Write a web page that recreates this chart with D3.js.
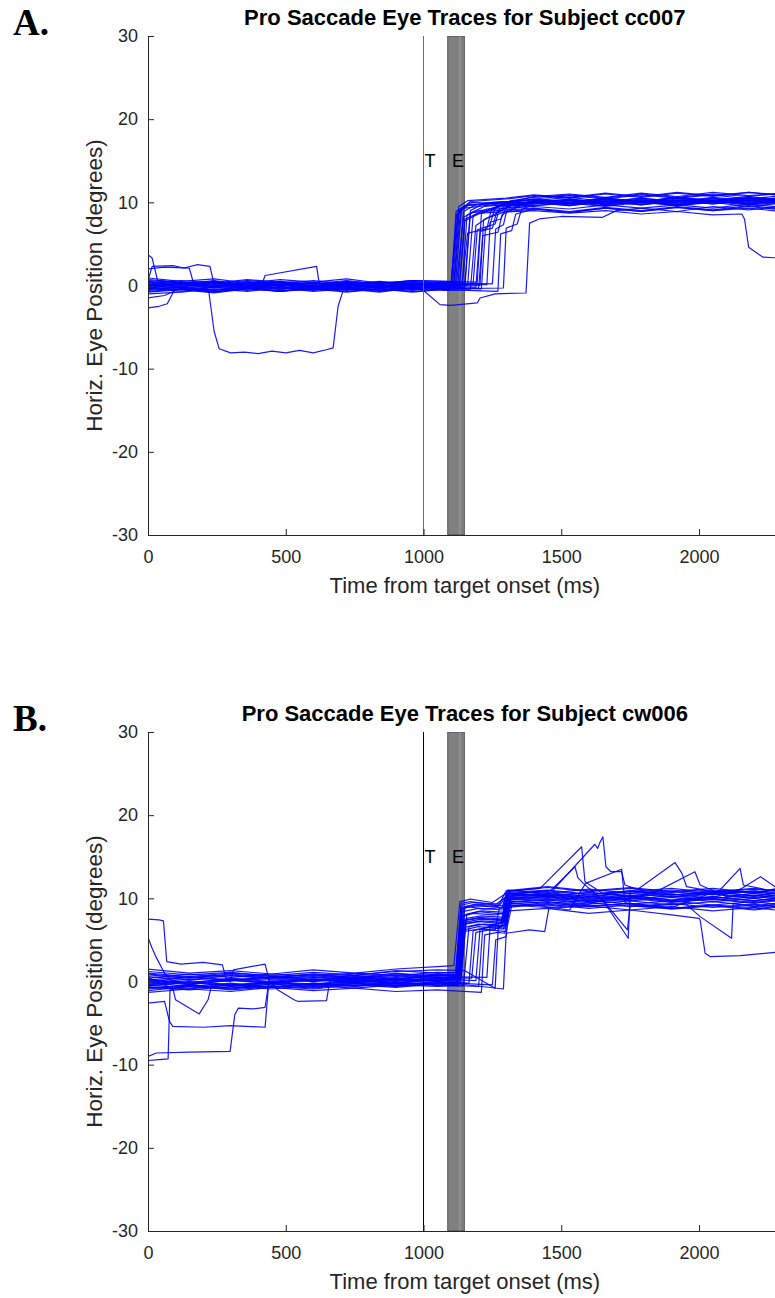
<!DOCTYPE html>
<html>
<head>
<meta charset="utf-8">
<script src="https://cdn.jsdelivr.net/npm/d3@7"></script>
<style>
  html, body { margin: 0; padding: 0; background: #fff; }
  svg { display: block; }
</style>
</head>
<body>
<svg id="chart" width="775" height="1298"></svg>
<script>
// axis limits and ticks
const xLim = [0, 2300];
const yLim = [-30, 30];
const xTicks = [0, 500, 1000, 1500, 2000];
const yTicks = [-30, -20, -10, 0, 10, 20, 30];
const targetTime = 1000;        // "T" line
const eyeWindow = [1088, 1148]; // "E" bar
const eyeMid = 1132;
const labelY = 15;

const titles = ["Pro Saccade Eye Traces for Subject cc007", "Pro Saccade Eye Traces for Subject cw006"];
const letters = ["A.", "B."];

// eye traces, [time ms, horizontal position deg]
const tracesA = [
  [[0,0.4],[120,0.1],[240,0.5],[360,0.0],[480,0.3],[600,-0.1],[720,0.4],[840,0.1],[960,0.5],[1080,0.2],[1100,0.2],[1125,8.8],[1160,9.6],[1250,10.0],[1400,10.3],[1530,10.0],[1660,10.5],[1790,10.1],[1920,10.6],[2050,10.2],[2180,10.7],[2300,10.3]],
  [[0,-0.3],[120,-0.7],[240,-0.2],[360,-0.6],[480,-0.1],[600,-0.5],[720,-0.2],[840,-0.6],[960,-0.1],[1080,-0.4],[1110,-0.1],[1135,9.2],[1170,9.8],[1300,9.6],[1400,9.9],[1530,10.3],[1660,9.8],[1790,10.2],[1920,9.7],[2050,10.1],[2180,9.8],[2300,10.2]],
  [[0,0.9],[120,0.5],[240,0.8],[360,0.3],[480,0.7],[600,0.4],[720,0.8],[840,0.3],[960,0.6],[1080,0.5],[1120,0.4],[1145,8.2],[1180,8.8],[1260,9.0],[1400,9.3],[1530,8.9],[1660,9.4],[1790,9.0],[1920,9.5],[2050,9.1],[2180,9.6],[2300,9.2]],
  [[0,-0.8],[120,-0.5],[240,-0.9],[360,-0.4],[480,-0.7],[600,-0.3],[720,-0.7],[840,-0.4],[960,-0.8],[1080,-0.4],[1130,-0.3],[1150,7.8],[1200,8.6],[1280,9.6],[1400,10.0],[1530,9.6],[1660,10.1],[1790,9.7],[1920,10.2],[2050,9.8],[2180,10.3],[2300,9.9]],
  [[0,0.2],[120,-0.1],[240,0.3],[360,-0.2],[480,0.2],[600,-0.2],[720,0.2],[840,-0.1],[960,0.3],[1080,0.0],[1140,0.1],[1160,6.3],[1230,6.8],[1245,9.0],[1300,9.9],[1400,10.4],[1530,10.8],[1660,10.4],[1790,10.9],[1920,10.5],[2050,10.9],[2180,10.4],[2300,10.8]],
  [[0,-0.1],[120,0.3],[240,0.0],[360,0.5],[480,0.1],[600,0.4],[720,0.0],[840,0.4],[960,0.1],[1080,0.3],[1160,0.0],[1180,8.4],[1230,9.2],[1350,9.8],[1400,10.2],[1530,10.6],[1660,10.1],[1790,10.5],[1920,10.0],[2050,10.5],[2180,10.1],[2300,10.6]],
  [[0,-1.5],[60,-1.2],[120,-0.3],[240,-0.6],[360,-0.1],[480,-0.5],[600,-0.1],[720,-0.5],[840,-0.2],[960,-0.6],[1080,-0.1],[1190,-0.2],[1205,6.5],[1250,6.9],[1265,8.8],[1320,9.6],[1400,9.8],[1530,10.2],[1660,9.7],[1790,10.1],[1920,9.6],[2050,10.0],[2180,9.5],[2300,9.9]],
  [[0,3.7],[15,3.3],[35,0.6],[120,0.3],[240,-0.1],[360,0.4],[480,0.0],[600,0.3],[720,-0.1],[840,0.3],[960,0.0],[1080,0.2],[1110,0.2],[1130,9.0],[1170,10.1],[1300,10.4],[1400,10.8],[1530,10.5],[1660,11.0],[1790,10.6],[1920,11.1],[2050,10.7],[2180,11.2],[2300,10.8]],
  [[0,2.0],[60,2.2],[150,2.1],[165,0.3],[240,0.0],[360,-0.3],[480,0.1],[600,-0.3],[720,0.0],[840,-0.4],[960,0.0],[1080,-0.3],[1200,-0.3],[1215,6.0],[1270,6.4],[1285,8.5],[1340,9.4],[1400,9.6],[1530,9.9],[1660,9.5],[1790,10.0],[1920,9.6],[2050,10.1],[2180,9.7],[2300,10.0]],
  [[0,0.6],[15,2.3],[90,2.4],[130,2.1],[180,2.5],[225,2.3],[240,0.1],[360,-0.3],[480,0.1],[600,-0.4],[720,0.0],[840,-0.3],[960,0.1],[1080,-0.2],[1100,0.0],[1120,8.5],[1150,9.3],[1300,9.9],[1400,10.1],[1530,9.8],[1660,10.3],[1790,9.9],[1920,10.4],[2050,10.0],[2180,10.4],[2300,10.1]],
  [[0,-0.4],[100,0.2],[200,0.0],[220,-0.6],[240,-5.5],[258,-7.6],[300,-8.1],[350,-8.0],[400,-8.2],[450,-7.9],[500,-8.1],[550,-7.8],[600,-8.1],[650,-7.7],[672,-7.5],[690,-2.5],[710,-0.4],[840,0.1],[960,-0.4],[1080,0.0],[1150,-0.3],[1170,8.7],[1220,9.5],[1400,10.0],[1530,9.6],[1660,10.1],[1790,9.7],[1920,10.2],[2050,9.8],[2180,10.2],[2300,9.8]],
  [[0,0.1],[120,-0.2],[240,0.3],[360,-0.1],[415,0.3],[425,1.2],[612,2.3],[622,0.1],[720,-0.2],[840,0.3],[960,-0.1],[1080,0.2],[1125,0.2],[1145,8.9],[1190,9.7],[1300,10.1],[1400,9.9],[1530,10.4],[1660,10.0],[1790,10.5],[1920,10.1],[2050,10.6],[2180,10.2],[2300,10.5]],
  [[0,-2.7],[40,-2.5],[70,-2.2],[95,-0.6],[120,-0.4],[240,-0.8],[360,-0.3],[480,-0.7],[600,-0.2],[720,-0.6],[840,-0.2],[960,-0.5],[1080,-0.3],[1210,-0.4],[1225,7.0],[1260,7.4],[1275,9.2],[1330,9.8],[1400,10.0],[1530,10.4],[1660,9.9],[1790,10.4],[1920,9.9],[2050,10.3],[2180,9.9],[2300,10.2]],
  [[0,0.3],[120,0.0],[240,0.4],[360,-0.1],[480,0.2],[600,-0.2],[720,0.3],[840,-0.1],[920,0.1],[1000,-0.6],[1060,-2.3],[1100,-2.4],[1195,-2.1],[1205,-1.5],[1260,-1.0],[1372,-0.9],[1385,7.5],[1420,8.0],[1500,8.3],[1650,8.2],[1700,9.0],[1790,9.3],[1920,8.9],[2050,9.5],[2180,9.1],[2300,9.5]],
  [[0,-0.2],[120,0.1],[240,-0.3],[360,0.1],[480,-0.4],[600,0.0],[720,-0.4],[840,0.0],[960,-0.3],[1080,-0.1],[1130,0.0],[1150,8.0],[1200,8.7],[1400,9.0],[1530,8.7],[1660,9.0],[1790,8.6],[1920,8.9],[2050,8.5],[2155,8.6],[2165,8.0],[2180,4.6],[2232,3.4],[2300,3.3]],
  [[0,0.5],[120,0.2],[240,0.6],[360,0.1],[480,0.5],[600,0.2],[720,0.6],[840,0.2],[960,0.6],[1080,0.3],[1250,0.2],[1262,6.8],[1290,7.3],[1302,9.0],[1360,9.7],[1400,10.2],[1530,9.9],[1660,10.4],[1790,10.0],[1920,10.6],[2050,10.2],[2180,10.6],[2300,10.3]],
  [[0,-0.5],[120,-0.2],[240,-0.6],[360,-0.3],[480,-0.7],[600,-0.4],[720,-0.8],[840,-0.4],[960,-0.7],[1080,-0.5],[1270,-0.7],[1280,6.2],[1320,6.6],[1335,8.6],[1380,9.0],[1400,9.2],[1530,8.8],[1660,9.3],[1790,8.9],[1920,9.4],[2050,9.0],[2180,9.3],[2300,8.9]],
  [[0,0.0],[120,-0.3],[240,0.1],[360,-0.3],[480,0.1],[600,-0.2],[720,0.2],[840,-0.2],[960,0.2],[1080,-0.1],[1105,0.0],[1128,9.5],[1160,10.2],[1300,10.5],[1400,10.9],[1530,10.6],[1660,11.1],[1790,10.7],[1920,11.2],[2050,10.8],[2180,11.2],[2300,10.9]],
  [[0,0.7],[120,0.4],[240,0.2],[360,0.6],[480,0.3],[600,0.6],[720,0.2],[840,0.5],[960,0.2],[1080,0.4],[1150,0.3],[1170,9.0],[1220,9.9],[1400,10.3],[1530,9.9],[1660,10.4],[1790,10.0],[1920,10.5],[2050,10.0],[2180,10.5],[2300,10.1]],
  [[0,-0.7],[120,-0.4],[240,-0.8],[360,-0.3],[480,-0.6],[600,-0.5],[720,-0.2],[840,-0.6],[960,-0.3],[1080,-0.6],[1170,-0.5],[1190,7.2],[1230,8.1],[1300,8.9],[1400,9.2],[1530,8.8],[1660,9.3],[1790,8.9],[1920,9.4],[2050,9.0],[2180,9.5],[2300,9.1]],
  [[0,0.1],[120,0.4],[240,0.0],[360,0.3],[480,-0.1],[600,0.3],[720,0.0],[840,0.4],[960,0.1],[1080,0.2],[1230,0.1],[1242,7.6],[1280,8.0],[1300,9.3],[1400,9.9],[1530,10.3],[1660,9.8],[1790,10.3],[1920,9.9],[2050,10.4],[2180,10.0],[2300,10.4]],
  [[0,-0.2],[120,-0.5],[240,-0.1],[360,-0.4],[480,0.0],[600,-0.3],[720,0.1],[840,-0.3],[960,0.0],[1080,-0.2],[1115,-0.1],[1138,9.3],[1175,10.0],[1300,9.8],[1400,10.1],[1530,9.7],[1660,10.2],[1790,9.8],[1920,10.3],[2050,9.9],[2180,10.3],[2300,9.9]],
  [[0,0.3],[120,0.6],[240,0.3],[360,0.7],[480,0.4],[600,0.1],[720,0.5],[840,0.2],[960,0.6],[1080,0.5],[1195,0.4],[1210,8.6],[1250,9.3],[1350,10.3],[1400,10.7],[1530,11.0],[1660,10.6],[1790,11.1],[1920,10.7],[2050,11.2],[2180,10.8],[2300,11.1]],
  [[0,-0.4],[120,-0.1],[240,-0.5],[360,-0.1],[480,-0.3],[600,0.0],[720,-0.3],[840,0.0],[960,-0.4],[1080,-0.3],[1140,-0.2],[1158,8.5],[1200,9.0],[1300,9.3],[1400,9.5],[1530,9.2],[1660,9.7],[1790,9.3],[1920,9.7],[2050,9.3],[2180,9.8],[2300,9.4]],
  [[0,0.0],[120,0.2],[240,-0.2],[360,0.2],[480,0.4],[600,-0.1],[720,0.3],[840,-0.1],[960,0.3],[1080,-0.1],[1180,0.2],[1195,6.7],[1240,7.2],[1260,9.4],[1320,10.2],[1400,10.6],[1530,10.9],[1660,10.5],[1790,11.0],[1920,10.6],[2050,11.0],[2180,10.7],[2300,11.1]],
  [[0,-1.0],[120,-0.8],[240,-0.4],[360,-0.7],[480,-0.3],[600,-0.7],[720,-0.4],[840,-0.8],[960,-0.3],[1080,-0.5],[1100,-0.4],[1118,8.9],[1150,9.6],[1300,10.0],[1400,10.4],[1530,10.0],[1660,10.5],[1790,10.1],[1920,10.6],[2050,10.1],[2180,10.5],[2300,10.2]],
  [[0,0.6],[120,0.3],[240,0.5],[360,0.1],[480,0.4],[600,0.0],[720,0.4],[840,0.1],[960,0.4],[1080,0.1],[1205,0.0],[1218,7.9],[1260,8.6],[1320,9.7],[1400,9.6],[1530,10.0],[1660,9.6],[1790,10.1],[1920,9.7],[2050,10.2],[2180,9.8],[2300,10.1]],
  [[0,-0.6],[120,-0.3],[240,-0.7],[360,-0.4],[480,-0.2],[600,-0.6],[720,-0.3],[840,-0.7],[960,-0.2],[1080,-0.4],[1290,-0.3],[1300,6.9],[1340,7.4],[1355,9.1],[1400,9.8],[1530,10.2],[1660,9.8],[1790,10.3],[1920,9.8],[2050,10.2],[2180,9.9],[2300,10.3]]
];

const tracesB = [
  [[0,0.3],[150,-0.2],[300,0.4],[450,0.0],[600,0.5],[750,0.2],[900,0.6],[1050,0.4],[1115,0.5],[1135,8.6],[1160,9.0],[1220,8.7],[1290,8.9],[1310,10.6],[1450,10.9],[1600,10.4],[1750,10.8],[1900,10.2],[2050,10.6],[2200,10.1],[2300,10.5]],
  [[0,-0.6],[150,-0.9],[300,-0.4],[450,-0.7],[600,-0.2],[750,-0.5],[900,-0.1],[1050,-0.3],[1120,-0.2],[1140,6.8],[1200,7.2],[1280,7.0],[1300,9.8],[1450,10.1],[1600,9.6],[1750,10.0],[1900,9.5],[2050,9.9],[2200,9.4],[2300,9.8]],
  [[0,1.2],[150,0.8],[300,1.1],[450,0.6],[600,0.9],[750,0.7],[900,1.3],[1050,1.0],[1118,1.1],[1138,7.8],[1180,8.2],[1260,8.0],[1295,8.3],[1312,10.9],[1450,11.3],[1600,10.8],[1750,11.2],[1900,10.7],[2050,11.0],[2200,10.6],[2300,11.1]],
  [[0,-1.1],[150,-0.6],[300,-0.9],[450,-0.5],[600,-0.8],[750,-0.3],[900,-0.6],[1050,-0.2],[1125,-0.4],[1145,6.2],[1200,6.6],[1270,6.4],[1290,6.7],[1305,9.3],[1450,9.6],[1600,9.1],[1750,9.4],[1900,8.8],[2050,9.2],[2200,8.9],[2300,9.3]],
  [[0,7.5],[40,7.4],[56,7.3],[68,2.4],[120,2.1],[200,2.3],[270,2.0],[285,0.2],[450,0.3],[600,0.0],[750,0.4],[900,0.2],[1050,0.7],[1120,0.6],[1140,9.2],[1180,9.5],[1280,9.3],[1300,10.3],[1450,10.5],[1600,10.0],[1750,10.4],[1900,9.8],[2050,10.2],[2200,9.7],[2300,10.1]],
  [[0,5.3],[15,4.0],[30,2.9],[60,1.0],[80,0.2],[150,-0.3],[300,0.1],[450,-0.2],[600,0.3],[750,0.0],[900,0.4],[1050,0.1],[1122,0.2],[1142,7.3],[1200,7.6],[1285,7.4],[1302,10.0],[1450,9.7],[1600,10.2],[1750,9.7],[1900,10.1],[2050,9.6],[2200,10.0],[2300,9.6]],
  [[0,-9.5],[40,-9.4],[73,-9.3],[80,-1.0],[150,-0.4],[300,-0.8],[450,-0.3],[600,-0.6],[750,-0.2],[900,-0.5],[1050,0.0],[1128,-0.1],[1148,8.0],[1200,8.4],[1290,8.1],[1308,10.6],[1450,10.3],[1600,10.7],[1750,10.2],[1900,10.5],[2050,10.0],[2200,10.4],[2300,10.0]],
  [[0,-9.0],[30,-8.6],[150,-8.5],[298,-8.4],[315,-4.0],[328,-3.2],[380,-3.3],[425,-3.1],[438,-0.2],[600,0.2],[750,-0.1],[900,0.3],[1050,0.1],[1130,0.3],[1150,6.5],[1200,6.9],[1280,6.6],[1298,9.0],[1450,9.3],[1600,8.8],[1750,9.2],[1900,8.7],[2050,9.1],[2200,8.6],[2300,9.0]],
  [[0,-2.6],[60,-2.4],[78,-4.8],[90,-5.4],[200,-5.5],[300,-5.3],[425,-5.5],[440,0.6],[600,0.4],[750,0.7],[900,0.5],[1050,0.9],[1125,0.8],[1145,8.8],[1190,9.1],[1285,8.9],[1305,11.0],[1450,10.6],[1600,11.1],[1750,10.6],[1900,11.0],[2050,10.5],[2200,10.9],[2300,10.4]],
  [[0,0.5],[50,-0.3],[90,-0.8],[100,-2.2],[186,-3.9],[218,-2.2],[232,-0.3],[300,-0.5],[450,-0.1],[600,-0.4],[750,0.0],[900,-0.2],[1050,0.3],[1132,0.2],[1152,7.0],[1210,7.3],[1300,7.1],[1318,9.5],[1450,9.8],[1600,9.3],[1750,9.7],[1900,9.2],[2050,9.6],[2200,9.1],[2300,9.5]],
  [[0,-0.2],[150,0.3],[300,0.0],[310,1.4],[425,2.1],[440,0.1],[600,0.0],[750,0.3],[900,0.1],[1050,0.5],[1116,0.4],[1136,9.4],[1170,9.6],[1260,9.2],[1300,10.2],[1450,10.0],[1600,10.4],[1750,9.9],[1900,10.3],[2050,9.8],[2200,10.2],[2300,9.9]],
  [[0,0.1],[150,-0.4],[300,0.2],[450,-0.2],[470,-1.0],[530,-2.2],[545,-2.4],[648,-2.3],[660,0.1],[750,0.2],[900,0.0],[1050,0.4],[1135,0.3],[1155,7.6],[1210,7.9],[1300,7.7],[1320,10.1],[1450,10.4],[1600,9.9],[1750,10.3],[1900,9.8],[2050,10.2],[2200,9.7],[2300,10.0]],
  [[0,0.8],[150,0.4],[300,0.9],[450,0.5],[600,0.8],[750,0.4],[900,0.9],[1050,0.7],[1120,0.8],[1140,8.4],[1200,8.8],[1290,8.6],[1305,10.8],[1423,11.2],[1574,16.2],[1586,12.0],[1650,10.6],[1750,10.9],[1900,10.4],[2050,10.8],[2200,10.3],[2300,10.7]],
  [[0,-0.4],[150,0.0],[300,-0.5],[450,-0.1],[600,-0.4],[750,0.1],[900,-0.2],[1050,0.2],[1127,0.0],[1147,7.1],[1210,7.5],[1295,7.3],[1310,10.4],[1470,11.0],[1622,16.5],[1632,16.0],[1640,16.7],[1651,17.4],[1662,13.8],[1680,13.2],[1719,13.2],[1731,11.6],[1800,10.8],[1950,10.4],[2100,10.9],[2300,10.5]],
  [[0,0.4],[150,0.9],[300,0.5],[450,0.9],[600,0.6],[750,1.0],[900,0.7],[1050,1.1],[1130,1.0],[1150,9.0],[1190,9.3],[1290,9.1],[1300,10.5],[1460,10.9],[1550,13.8],[1560,12.5],[1580,11.8],[1650,9.8],[1743,5.2],[1750,10.8],[1900,11.2],[2050,10.7],[2200,11.1],[2300,10.8]],
  [[0,-0.9],[150,-0.5],[300,-1.0],[450,-0.6],[600,-0.9],[750,-0.4],[900,-0.7],[1050,-0.3],[1123,-0.5],[1143,6.0],[1200,6.3],[1260,6.2],[1275,8.8],[1400,9.2],[1530,8.6],[1588,11.8],[1719,13.5],[1731,9.5],[1800,9.0],[1950,9.4],[2004,7.8],[2118,5.2],[2124,9.4],[2200,9.0],[2300,9.3]],
  [[0,0.0],[150,0.5],[300,0.1],[450,0.6],[600,0.2],[750,0.6],[900,0.3],[1050,0.8],[1137,0.6],[1157,8.1],[1210,8.5],[1300,8.3],[1315,10.2],[1450,10.6],[1600,10.1],[1774,11.0],[1913,14.3],[1938,13.0],[1955,11.4],[2050,10.8],[2200,11.2],[2300,10.8]],
  [[0,-0.7],[150,-1.0],[300,-0.6],[450,-0.9],[600,-0.5],[750,-0.8],[900,-0.4],[1050,-0.6],[1145,-0.5],[1165,6.6],[1220,6.9],[1300,6.7],[1318,9.6],[1450,9.9],[1600,9.5],[1750,9.9],[1850,10.9],[1985,13.2],[2004,11.6],[2100,10.2],[2200,10.6],[2300,10.2]],
  [[0,0.6],[150,0.2],[300,0.7],[450,0.3],[600,0.7],[750,0.3],[900,0.8],[1050,0.5],[1175,0.4],[1190,5.9],[1240,6.2],[1300,6.0],[1320,9.1],[1450,9.5],[1600,9.0],[1750,9.4],[1900,8.9],[2076,11.0],[2149,13.6],[2161,11.6],[2250,11.0],[2300,11.3]],
  [[0,-0.3],[150,0.1],[300,-0.4],[450,0.0],[600,-0.3],[750,0.2],[900,-0.1],[1050,0.3],[1190,0.1],[1205,6.3],[1250,6.6],[1295,6.4],[1312,10.0],[1450,10.3],[1600,9.8],[1750,10.2],[1900,9.7],[2050,10.1],[2150,11.1],[2223,12.6],[2276,11.4],[2300,11.2]],
  [[0,0.2],[150,-0.3],[300,0.3],[450,-0.1],[600,0.3],[750,-0.2],[900,0.2],[1050,0.0],[1165,-0.2],[1180,6.1],[1230,6.5],[1290,6.3],[1305,8.5],[1450,8.8],[1600,8.2],[1750,8.6],[1900,8.0],[2000,7.6],[2004,7.4],[2022,3.4],[2040,3.0],[2150,3.1],[2276,3.5],[2300,3.5]],
  [[0,-1.3],[150,-0.9],[300,-1.2],[450,-0.7],[600,-1.1],[750,-0.8],[900,-1.2],[1050,-1.0],[1210,-1.3],[1222,5.6],[1270,5.9],[1295,5.8],[1310,9.4],[1450,9.1],[1600,9.5],[1750,9.0],[1900,9.4],[2050,8.9],[2200,9.3],[2300,8.9]],
  [[0,1.0],[150,0.6],[300,1.0],[450,0.7],[600,1.1],[750,0.8],[900,1.2],[1050,1.4],[1150,1.3],[1260,-0.8],[1272,7.0],[1300,7.3],[1315,10.3],[1450,10.7],[1600,10.2],[1750,10.6],[1900,10.1],[2050,10.5],[2200,10.0],[2300,10.4]],
  [[0,-0.5],[150,-0.1],[300,-0.6],[450,-0.2],[600,-0.5],[750,-0.1],[900,-0.4],[1050,0.0],[1290,-0.9],[1300,5.8],[1385,6.2],[1440,6.0],[1455,8.8],[1600,9.1],[1750,8.6],[1900,9.0],[2050,8.5],[2200,8.9],[2300,8.5]],
  [[0,1.5],[150,1.0],[300,1.3],[450,0.9],[600,1.4],[750,1.0],[900,1.5],[1050,1.8],[1110,1.9],[1132,9.6],[1170,9.9],[1250,9.5],[1300,10.6],[1450,10.2],[1600,10.7],[1750,10.3],[1900,10.8],[2050,10.4],[2200,10.9],[2300,10.6]],
  [[0,-0.1],[150,-0.6],[300,-0.2],[450,-0.7],[600,-0.3],[750,-0.6],[900,-0.2],[1050,-0.5],[1133,-0.3],[1153,7.4],[1205,7.7],[1292,7.5],[1308,9.2],[1450,8.9],[1600,9.3],[1650,9.8],[1740,6.2],[1750,9.1],[1900,8.8],[2050,9.2],[2200,8.7],[2300,9.1]],
  [[0,0.9],[150,0.5],[300,0.8],[450,0.4],[600,0.9],[750,0.5],[900,1.0],[1050,0.6],[1230,0.5],[1242,6.8],[1290,7.1],[1306,10.7],[1450,11.0],[1600,10.5],[1750,10.9],[1900,10.4],[2050,10.8],[2200,10.3],[2300,10.7]],
  [[0,-0.8],[150,-0.4],[300,-0.8],[450,-0.3],[600,-0.7],[750,-0.2],[900,-0.6],[1050,-0.1],[1250,-0.4],[1262,5.0],[1300,5.4],[1312,9.9],[1450,10.2],[1600,9.7],[1750,10.1],[1900,9.6],[2050,10.0],[2200,9.5],[2300,9.9]],
  [[0,0.2],[150,0.6],[300,0.2],[450,0.5],[600,0.1],[750,0.5],[900,0.3],[1050,0.9],[1118,0.7],[1138,8.9],[1180,9.2],[1270,9.0],[1300,10.9],[1450,11.4],[1600,10.9],[1750,11.3],[1900,10.8],[2050,11.2],[2200,10.7],[2300,11.2]],
  [[0,-0.4],[150,-0.8],[300,-0.3],[450,-0.7],[600,-0.2],[750,-0.6],[900,-0.1],[1050,-0.4],[1200,-0.6],[1215,6.4],[1260,6.8],[1285,6.6],[1300,9.7],[1450,9.4],[1600,9.8],[1750,9.3],[1900,9.7],[2050,9.2],[2200,9.6],[2300,9.2]]
];

const svg = d3.select("#chart");
const M = { left: 148, right: 781.7, top: 36, bottom: 535 };
const panelStep = 696;
const axisCol = "#262626";
const sans = "'Liberation Sans', Arial, Helvetica, sans-serif";

const x = d3.scaleLinear().domain(xLim).range([M.left, M.right]);
const y = d3.scaleLinear().domain(yLim).range([M.bottom, M.top]);
const line = d3.line().x(d => x(d[0])).y(d => y(d[1]));

svg.append("defs").append("clipPath").attr("id", "plot-clip")
  .append("rect")
  .attr("x", M.left).attr("y", M.top)
  .attr("width", M.right - M.left).attr("height", M.bottom - M.top);

function drawPanel(i, traces, tColor) {
  const g = svg.append("g").attr("transform", "translate(0," + i * panelStep + ")");

  // panel letter
  g.append("text")
    .attr("x", 13).attr("y", 35)
    .style("font-family", "'Liberation Serif', 'DejaVu Serif', serif")
    .style("font-weight", "700")
    .style("font-size", "37px")
    .attr("fill", "#000")
    .text(letters[i]);

  // title
  g.append("text")
    .attr("x", (M.left + M.right) / 2).attr("y", 25)
    .attr("text-anchor", "middle")
    .style("font-family", sans)
    .style("font-weight", "700")
    .style("font-size", "22px")
    .attr("fill", "#000")
    .text(titles[i]);

  const plot = g.append("g").attr("clip-path", "url(#plot-clip)");

  // E window bar
  plot.append("rect")
    .attr("x", x(eyeWindow[0])).attr("y", M.top)
    .attr("width", x(eyeWindow[1]) - x(eyeWindow[0]))
    .attr("height", M.bottom - M.top)
    .attr("fill", "#808080")
    .attr("stroke", "#3a3a3a").attr("stroke-width", 0.8);
  plot.append("line")
    .attr("x1", x(eyeMid)).attr("x2", x(eyeMid))
    .attr("y1", M.top).attr("y2", M.bottom)
    .attr("stroke", "#b4b4b4").attr("stroke-width", 0.8).attr("stroke-opacity", 0.7);

  // traces
  plot.selectAll(".trace").data(traces).enter().append("path")
    .attr("class", "trace")
    .attr("fill", "none")
    .attr("stroke", "#0000ff")
    .attr("stroke-width", 1.2)
    .attr("stroke-opacity", 0.9)
    .attr("stroke-linejoin", "round")
    .attr("d", line);

  // target line
  plot.append("line")
    .attr("x1", x(targetTime)).attr("x2", x(targetTime))
    .attr("y1", M.top).attr("y2", M.bottom)
    .attr("stroke", tColor).attr("stroke-width", 1);

  // T / E labels
  [["T", targetTime], ["E", 1100]].forEach(([s, t]) => {
    g.append("text")
      .attr("x", x(t) + 1).attr("y", y(labelY))
      .attr("dy", "0.36em")
      .style("font-family", sans)
      .style("font-size", "18px")
      .attr("fill", "#000")
      .text(s);
  });

  // axes
  const fmt = d => String(d);
  const yAxis = d3.axisLeft(y).tickValues(yTicks).tickFormat(fmt)
    .tickSizeInner(-6).tickSizeOuter(0).tickPadding(10);
  const xAxis = d3.axisBottom(x).tickValues(xTicks).tickFormat(fmt)
    .tickSizeInner(-6).tickSizeOuter(0).tickPadding(15);

  const ya = g.append("g").attr("transform", "translate(" + M.left + ",0)").call(yAxis);
  const xa = g.append("g").attr("transform", "translate(0," + M.bottom + ")").call(xAxis);
  [ya, xa].forEach(a => {
    a.select(".domain").attr("stroke", axisCol).attr("stroke-width", 1);
    a.selectAll(".tick line").attr("stroke", axisCol).attr("stroke-width", 1);
    a.selectAll(".tick text")
      .attr("fill", axisCol)
      .style("font-size", "18px")
      .style("font-family", sans);
  });

  // axis labels
  g.append("text")
    .attr("x", (M.left + M.right) / 2).attr("y", 593)
    .attr("text-anchor", "middle")
    .style("font-family", sans)
    .style("font-size", "22px")
    .attr("fill", axisCol)
    .text("Time from target onset (ms)");

  g.append("text")
    .attr("transform", "translate(102," + (M.top + M.bottom) / 2 + ") rotate(-90)")
    .attr("text-anchor", "middle")
    .style("font-family", sans)
    .style("font-size", "22.5px")
    .attr("fill", axisCol)
    .text("Horiz. Eye Position (degrees)");
}

drawPanel(0, tracesA, "#6e6e6e");
drawPanel(1, tracesB, "#000000");
</script>
</body>
</html>
